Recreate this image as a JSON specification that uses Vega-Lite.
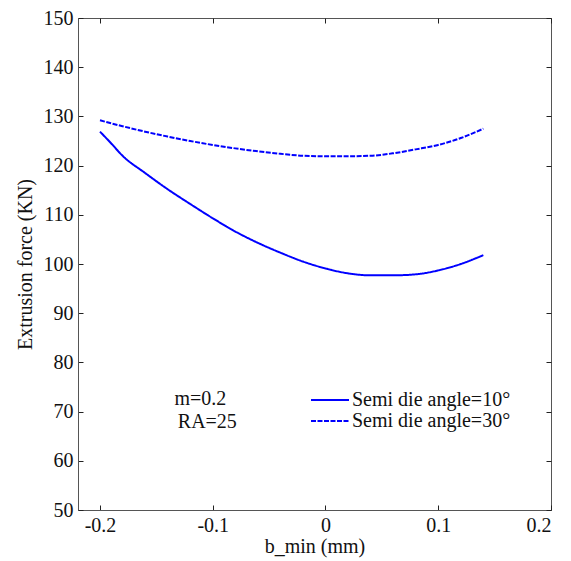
{
  "$schema": "https://vega.github.io/schema/vega-lite/v6.json",
  "width": 473,
  "height": 492,
  "autosize": "none",
  "padding": {"left": 78, "top": 18, "right": 20, "bottom": 51},
  "background": "white",
  "config": {
    "view": {"stroke": "#555555", "strokeWidth": 1},
    "font": "Liberation Serif, Times New Roman, serif",
    "axis": {
      "labelFont": "Liberation Serif, Times New Roman, serif",
      "titleFont": "Liberation Serif, Times New Roman, serif",
      "labelFontSize": 20,
      "titleFontSize": 20,
      "titleFontWeight": "normal",
      "labelColor": "#111",
      "titleColor": "#111",
      "tickColor": "#222",
      "domainColor": "#555555",
      "grid": false,
      "tickSize": -5,
      "labelPadding": 10
    }
  },
  "layer": [
    {
      "data": {"values": [
        {"b": -0.2, "F": 126.9, "series": "Semi die angle=10°"},
        {"b": -0.19, "F": 124.5, "series": "Semi die angle=10°"},
        {"b": -0.18, "F": 122.0, "series": "Semi die angle=10°"},
        {"b": -0.16, "F": 118.5, "series": "Semi die angle=10°"},
        {"b": -0.14, "F": 115.2, "series": "Semi die angle=10°"},
        {"b": -0.12, "F": 112.2, "series": "Semi die angle=10°"},
        {"b": -0.10, "F": 109.3, "series": "Semi die angle=10°"},
        {"b": -0.08, "F": 106.6, "series": "Semi die angle=10°"},
        {"b": -0.06, "F": 104.3, "series": "Semi die angle=10°"},
        {"b": -0.04, "F": 102.3, "series": "Semi die angle=10°"},
        {"b": -0.02, "F": 100.5, "series": "Semi die angle=10°"},
        {"b": 0.0, "F": 99.1, "series": "Semi die angle=10°"},
        {"b": 0.02, "F": 98.1, "series": "Semi die angle=10°"},
        {"b": 0.04, "F": 97.7, "series": "Semi die angle=10°"},
        {"b": 0.06, "F": 97.7, "series": "Semi die angle=10°"},
        {"b": 0.08, "F": 97.9, "series": "Semi die angle=10°"},
        {"b": 0.10, "F": 98.7, "series": "Semi die angle=10°"},
        {"b": 0.12, "F": 100.0, "series": "Semi die angle=10°"},
        {"b": 0.14, "F": 101.8, "series": "Semi die angle=10°"},
        {"b": -0.2, "F": 129.2, "series": "Semi die angle=30°"},
        {"b": -0.18, "F": 128.0, "series": "Semi die angle=30°"},
        {"b": -0.16, "F": 126.9, "series": "Semi die angle=30°"},
        {"b": -0.14, "F": 125.9, "series": "Semi die angle=30°"},
        {"b": -0.12, "F": 125.0, "series": "Semi die angle=30°"},
        {"b": -0.10, "F": 124.2, "series": "Semi die angle=30°"},
        {"b": -0.08, "F": 123.5, "series": "Semi die angle=30°"},
        {"b": -0.06, "F": 122.9, "series": "Semi die angle=30°"},
        {"b": -0.04, "F": 122.4, "series": "Semi die angle=30°"},
        {"b": -0.02, "F": 122.0, "series": "Semi die angle=30°"},
        {"b": 0.0, "F": 121.9, "series": "Semi die angle=30°"},
        {"b": 0.02, "F": 121.9, "series": "Semi die angle=30°"},
        {"b": 0.04, "F": 122.0, "series": "Semi die angle=30°"},
        {"b": 0.06, "F": 122.5, "series": "Semi die angle=30°"},
        {"b": 0.08, "F": 123.3, "series": "Semi die angle=30°"},
        {"b": 0.10, "F": 124.2, "series": "Semi die angle=30°"},
        {"b": 0.12, "F": 125.6, "series": "Semi die angle=30°"},
        {"b": 0.14, "F": 127.5, "series": "Semi die angle=30°"}
      ]},
      "mark": {"type": "line", "color": "#0000FF", "strokeWidth": 2, "interpolate": "monotone"},
      "encoding": {
        "x": {"field": "b", "type": "quantitative",
          "scale": {"domain": [-0.2195, 0.2], "nice": false, "zero": false},
          "axis": {"orient": "bottom", "values": [-0.2, -0.1, 0, 0.1, 0.2], "labelExpr": "toString(datum.value)", "title": "b_min (mm)", "titlePadding": 1}},
        "y": {"field": "F", "type": "quantitative",
          "scale": {"domain": [50, 150], "nice": false, "zero": false},
          "axis": {"orient": "left", "values": [50, 60, 70, 80, 90, 100, 110, 120, 130, 140, 150], "title": "Extrusion force (KN)", "titlePadding": 8}},
        "strokeDash": {"field": "series", "type": "nominal",
          "scale": {"domain": ["Semi die angle=10°", "Semi die angle=30°"], "range": [[1, 0], [5, 1.5]]},
          "legend": {"orient": "none", "legendX": 232, "legendY": 373, "title": null,
            "symbolType": "stroke", "symbolSize": 1444, "symbolStrokeWidth": 1.8, "symbolStrokeColor": "#0000FF",
            "clipHeight": 18,
            "labelFont": "Liberation Serif, Times New Roman, serif", "labelFontSize": 20, "labelColor": "#111", "rowPadding": 1, "labelOffset": 2}}
      }
    },
    {
      "data": {"values": [
        {"b": -0.134, "F": 72.6, "label": "m=0.2"},
        {"b": -0.131, "F": 67.9, "label": "RA=25"}
      ]},
      "mark": {"type": "text", "align": "left", "baseline": "middle", "font": "Liberation Serif, Times New Roman, serif", "fontSize": 20, "color": "#111"},
      "encoding": {
        "x": {"field": "b", "type": "quantitative",
          "axis": {"orient": "top", "values": [-0.2, -0.1, 0, 0.1, 0.2], "labels": false, "title": null, "domain": false}},
        "y": {"field": "F", "type": "quantitative",
          "axis": {"orient": "right", "values": [50, 60, 70, 80, 90, 100, 110, 120, 130, 140, 150], "labels": false, "title": null, "domain": false}},
        "text": {"field": "label"}
      }
    }
  ]
}
